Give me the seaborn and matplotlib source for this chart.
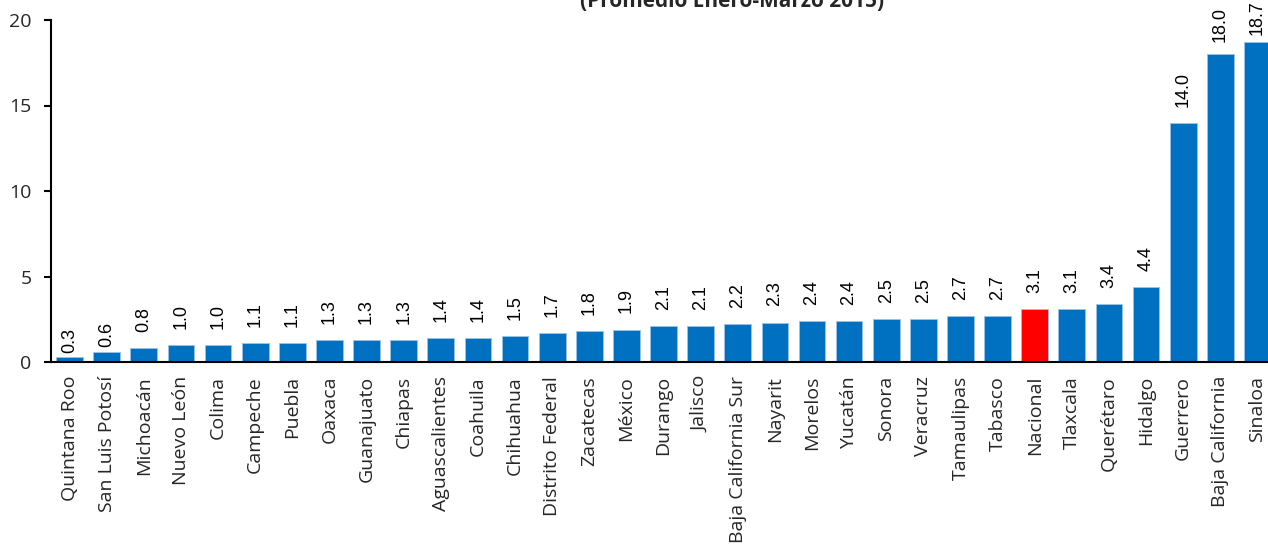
import matplotlib
matplotlib.use('Agg')
import matplotlib.pyplot as plt
import seaborn as sns
import pandas as pd
import numpy as np

estados = ['Quintana Roo', 'San Luis Potosí', 'Michoacán', 'Nuevo León', 'Colima',
           'Campeche', 'Puebla', 'Oaxaca', 'Guanajuato', 'Chiapas', 'Aguascalientes',
           'Coahuila', 'Chihuahua', 'Distrito Federal', 'Zacatecas', 'México', 'Durango',
           'Jalisco', 'Baja California Sur', 'Nayarit', 'Morelos', 'Yucatán', 'Sonora',
           'Veracruz', 'Tamaulipas', 'Tabasco', 'Nacional', 'Tlaxcala', 'Querétaro',
           'Hidalgo', 'Guerrero', 'Baja California', 'Sinaloa']
valores = [0.3, 0.6, 0.8, 1.0, 1.0, 1.1, 1.1, 1.3, 1.3, 1.3, 1.4, 1.4, 1.5, 1.7, 1.8,
           1.9, 2.1, 2.1, 2.2, 2.3, 2.4, 2.4, 2.5, 2.5, 2.7, 2.7, 3.1, 3.1, 3.4, 4.4,
           14.0, 18.0, 18.7]
colores = ['#FF0000' if e == 'Nacional' else '#0070C0' for e in estados]

# separacion entre la barra y su etiqueta (en unidades del eje)
gap = [0.25, 0.25] + [0.95] * 28 + [0.9, 0.7, 0.4]

df = pd.DataFrame({'estado': estados, 'valor': valores})

sns.set_style('white')
plt.rcParams['font.family'] = ['Open Sans', 'DejaVu Sans']

fig = plt.figure(figsize=(12.68, 5.50), dpi=100)
ax = fig.add_axes([51 / 1268, 188 / 550, 1225 / 1268, 342 / 550])

sns.barplot(data=df, x='estado', y='valor', hue='estado', palette=colores,
            saturation=1, legend=False, width=0.72, edgecolor='#9cc3e6',
            linewidth=0.6, ax=ax)

for i, v in enumerate(valores):
    ax.text(i, v + gap[i], f'{v:.1f}', rotation=90, ha='center', va='bottom',
            fontsize=13, fontfamily='Liberation Sans', color='black', clip_on=False)

ax.set_ylim(0, 20)
ax.set_xlim(-0.5, len(estados) - 0.5)
ax.set_yticks([0, 5, 10, 15, 20])
ax.set_xlabel('')
ax.set_ylabel('')

ax.set_xticks(range(len(estados)))
ax.set_xticklabels(estados, rotation=90, fontsize=14)
ax.set_xticks(np.arange(-0.5, len(estados), 1), minor=True)
ax.tick_params(axis='x', which='major', length=0, pad=10)
ax.tick_params(axis='x', which='minor', length=7, width=1.5, color='black', direction='out')
ax.tick_params(axis='y', length=5, width=1.5, color='black', direction='out', labelsize=14, pad=9)
ax.tick_params(left=True, bottom=True)

for s in ['top', 'right']:
    ax.spines[s].set_visible(False)
for s in ['left', 'bottom']:
    ax.spines[s].set_color('black')
    ax.spines[s].set_linewidth(1.5)

fig.text(732 / 1268, 1 - 7 / 550, '(Promedio Enero-Marzo 2015)', ha='center',
         va='baseline', fontsize=15, fontweight='bold')

fig.savefig('out.png', dpi=100)
